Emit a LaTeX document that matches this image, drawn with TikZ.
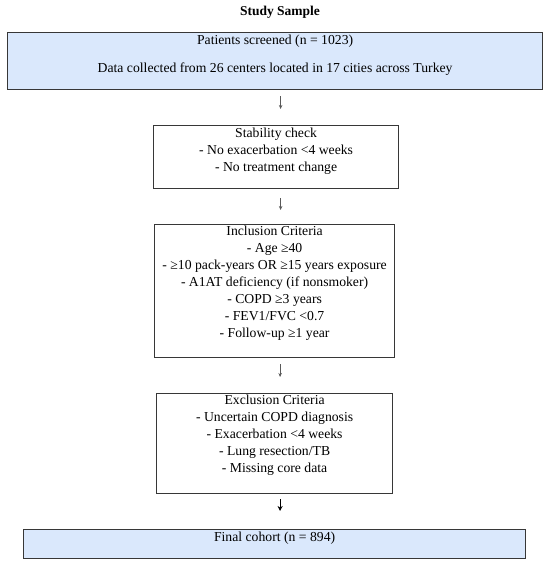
\documentclass[tikz,border=0pt]{standalone}
\usepackage{fontspec}
\setmainfont{Liberation Serif}
\usetikzlibrary{arrows.meta}
\definecolor{boxblue}{RGB}{218,232,252}
\definecolor{boxline}{RGB}{55,55,55}
\begin{document}
\begin{tikzpicture}[x=1pt,y=-1pt,
  box/.style={draw=boxline, line width=1.2pt, inner sep=0pt, anchor=north west},
  bluebox/.style={box, fill=boxblue},
  txt/.style={align=center, anchor=north, inner sep=0pt, font=\fontsize{13.7}{16.9}\selectfont},
  arr/.style={draw=gray!70!black, line width=0.6pt, -{Stealth[length=4pt,width=3.5pt]}},
  boldarr/.style={draw=black, line width=1.2pt, -{Stealth[length=5pt,width=5pt]}}]
\useasboundingbox (0,0) rectangle (550,564);
\node[font=\bfseries\fontsize{13.5}{16}\selectfont] (title) at (280,12) {Study Sample};
% boxes
\node[bluebox, minimum width=535pt, minimum height=57pt] (screen) at (7,32) {};
\node[box, minimum width=245pt, minimum height=63pt] (stab) at (153,125) {};
\node[box, minimum width=240pt, minimum height=133pt] (incl) at (154,224) {};
\node[box, minimum width=236pt, minimum height=100pt] (excl) at (156,393) {};
\node[bluebox, minimum width=502pt, minimum height=29pt] (final) at (23,529) {};
% texts
\node[txt] (screenT) at ([yshift=-3pt]screen.north) {Patients screened (n = 1023)\\[11pt]Data collected from 26 centers located in 17 cities across Turkey};
\node[txt] (stabT) at ([yshift=-3pt]stab.north) {Stability check\\- No exacerbation <4 weeks\\- No treatment change};
\node[txt] (inclT) at ([yshift=-2pt]incl.north) {Inclusion Criteria\\- Age ≥40\\- ≥10 pack-years OR ≥15 years exposure\\- A1AT deficiency (if nonsmoker)\\- COPD ≥3 years\\- FEV1/FVC <0.7\\- Follow-up ≥1 year};
\node[txt] (exclT) at ([yshift=-2pt]excl.north) {Exclusion Criteria\\- Uncertain COPD diagnosis\\- Exacerbation <4 weeks\\- Lung resection/TB\\- Missing core data};
\node[txt] (finalT) at ([yshift=-3pt]final.north) {Final cohort (n = 894)};
% arrows
\draw[arr, shorten <=6pt, shorten >=16pt] ([xshift=5.5pt]screen.south) -- ([xshift=5.5pt]screen.south |- stab.north);
\draw[arr, shorten <=9pt, shorten >=14pt] ([xshift=4.5pt]stab.south) -- ([xshift=4.5pt]stab.south |- incl.north);
\draw[arr, shorten <=6pt, shorten >=16pt] ([xshift=5.5pt]incl.south) -- ([xshift=5.5pt]incl.south |- excl.north);
\draw[boldarr, shorten <=5pt, shorten >=18pt] ([xshift=5.5pt]excl.south) -- ([xshift=5.5pt]excl.south |- final.north);
\end{tikzpicture}
\end{document}
